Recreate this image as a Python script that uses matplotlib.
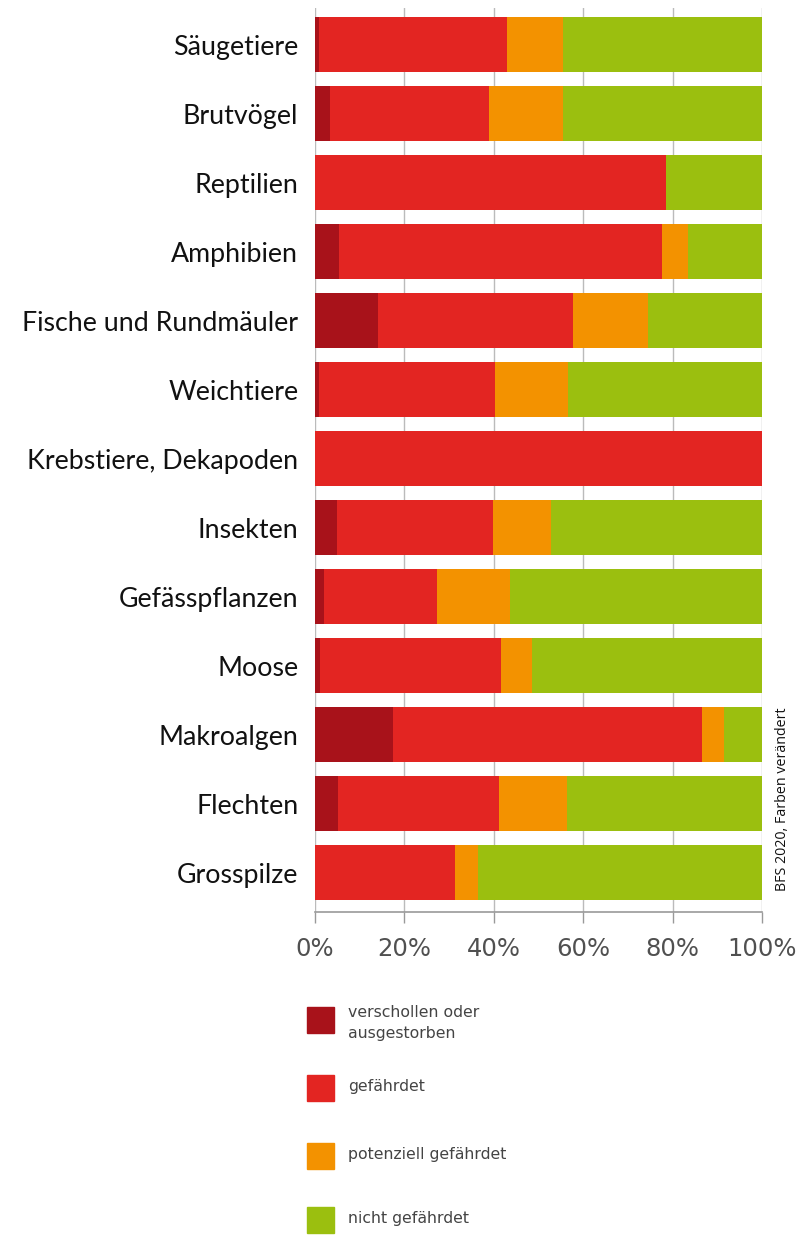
import matplotlib
matplotlib.use("Agg")
import matplotlib.pyplot as plt
from matplotlib.patches import Rectangle
import numpy as np

categories = ["Säugetiere", "Brutvögel", "Reptilien", "Amphibien",
              "Fische und Rundmäuler", "Weichtiere", "Krebstiere, Dekapoden",
              "Insekten", "Gefässpflanzen", "Moose", "Makroalgen", "Flechten",
              "Grosspilze"]
verschollen = [1.0, 3.4, 0.0, 5.4, 14.2, 1.0, 0.0, 5.0, 2.0, 1.1, 17.4, 5.2, 0.0]
gefaehrdet = [41.9, 35.5, 78.5, 72.3, 43.6, 39.3, 100.0, 34.8, 25.4, 40.4, 69.2, 36.0, 31.4]
potenziell = [12.6, 16.5, 0.0, 5.7, 16.6, 16.2, 0.0, 12.9, 16.2, 7.0, 4.9, 15.2, 5.0]
nicht = [44.5, 44.6, 21.5, 16.6, 25.6, 43.5, 0.0, 47.3, 56.4, 51.5, 8.5, 43.6, 63.6]
series_labels = ["verschollen oder\nausgestorben", "gefährdet",
                 "potenziell gefährdet", "nicht gefährdet"]
tick_values = [0, 20, 40, 60, 80, 100]
tick_labels = ["0%", "20%", "40%", "60%", "80%", "100%"]
colors = ["#a8121a", "#e32522", "#f39200", "#9bbf0f"]

W, H = 809, 1236
fig = plt.figure(figsize=(W / 100, H / 100), dpi=100)
ax = fig.add_axes([315 / W, 1 - 912 / H, (762 - 315) / W, (912 - 8) / H])

y = np.arange(len(categories))
left = np.zeros(len(categories))
for vals, c in zip([verschollen, gefaehrdet, potenziell, nicht], colors):
    ax.barh(y, vals, left=left, height=0.8, color=c, zorder=2, linewidth=0)
    left = left + np.array(vals)

ax.set_xlim(0, 100)
ax.set_ylim(12.57, -0.53)
ax.set_xticks(tick_values)
ax.set_xticklabels(tick_labels, family="DejaVu Sans", fontsize=17.5, color="#505050")
ax.set_yticks(y)
ax.set_yticklabels(categories, family="Lato", fontsize=19.3, color="#111111")
ax.tick_params(axis="y", length=0, pad=12)
ax.tick_params(axis="x", length=8, width=1, color="#999999", pad=10, direction="out")
for xv in tick_values:
    ax.axvline(xv, color="#bbbbbb", lw=1, zorder=1)
for s in ["top", "right", "left"]:
    ax.spines[s].set_visible(False)
ax.spines["bottom"].set_color("#999999")
ax.spines["bottom"].set_linewidth(1.2)

# source note
fig.text(782 / W, 1 - 799 / H, "BFS 2020, Farben verändert", rotation=90,
         ha="center", va="center", family="Open Sans", fontsize=10.3, color="#111111")

# legend
legend_y = [1020, 1088, 1156, 1220]
text_y = [1024, 1088, 1156, 1220]
for lbl, c, yc, ty in zip(series_labels, colors, legend_y, text_y):
    fig.patches.append(Rectangle((307 / W, 1 - (yc + 13) / H), 27 / W, 26 / H,
                                 transform=fig.transFigure, color=c, zorder=3))
    fig.text(348 / W, 1 - (ty - 1) / H, lbl, ha="left", va="center",
             family="DejaVu Sans", fontsize=11.3, color="#444444", linespacing=1.45)

fig.savefig("out.png", dpi=100)
